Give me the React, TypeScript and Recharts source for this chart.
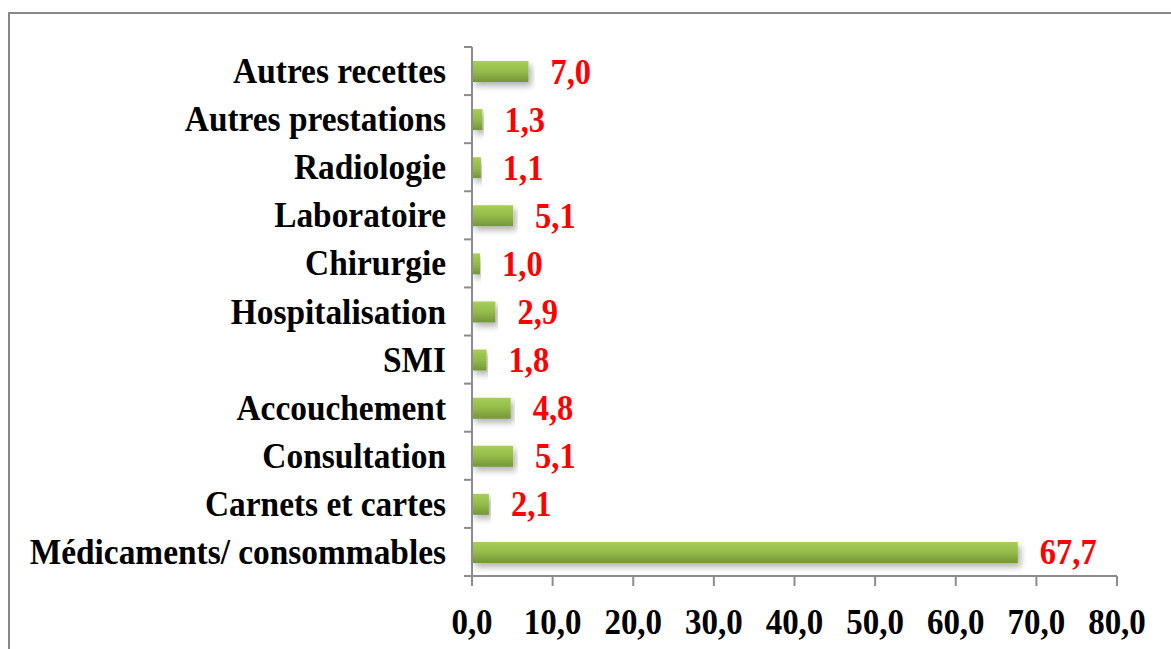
import { BarChart, Bar, XAxis, YAxis, LabelList } from "recharts";

const CATEGORIES = [
    "Autres recettes",
    "Autres prestations",
    "Radiologie",
    "Laboratoire",
    "Chirurgie",
    "Hospitalisation",
    "SMI",
    "Accouchement",
    "Consultation",
    "Carnets et cartes",
    "Médicaments/ consommables",
];
const VALUES = [7.0, 1.3, 1.1, 5.1, 1.0, 2.9, 1.8, 4.8, 5.1, 2.1, 67.7];
const X_TICKS = [0, 10, 20, 30, 40, 50, 60, 70, 80];

const W = 1171;
const H = 649;
const TOP = 47;
const BOTTOM = 73;
const LEFT = 472;
const RIGHT = 54;
const STEP = (H - TOP - BOTTOM) / CATEGORIES.length;
const AXIS = "#8c8c8c";
const FONT = "'Liberation Serif', 'Times New Roman', serif";
const STRETCH = 1.1;

const fmt = (v: number) => v.toFixed(1).replace(".", ",");

const YTick = (props: any) => {
    const { x, y, payload, index } = props;
    const last = index === CATEGORIES.length - 1;
    return (
        <g>
            <line x1={LEFT - 8} x2={LEFT} y1={y - STEP / 2} y2={y - STEP / 2} stroke={AXIS} strokeWidth={2} />
            {last && (
                <line x1={LEFT - 8} x2={LEFT} y1={y + STEP / 2} y2={y + STEP / 2} stroke={AXIS} strokeWidth={2} />
            )}
            <text
                transform={`translate(${x - 18},${y + 12}) scale(1,${STRETCH})`}
                textAnchor="end"
                fontFamily={FONT}
                fontWeight="bold"
                fontSize={33.4}
                fill="#000"
            >
                {payload.value}
            </text>
        </g>
    );
};

const XTick = (props: any) => {
    const { x, y, payload } = props;
    return (
        <text
            transform={`translate(${x},${y + 46}) scale(1,${STRETCH})`}
            textAnchor="middle"
            fontFamily={FONT}
            fontWeight="bold"
            fontSize={33}
            fill="#000"
        >
            {fmt(payload.value)}
        </text>
    );
};

const ValueLabel = (props: any) => {
    const { x, y, width, height, value } = props;
    return (
        <text
            transform={`translate(${x + width + 22},${y + height / 2 + 12}) scale(1,${STRETCH})`}
            textAnchor="start"
            fontFamily={FONT}
            fontWeight="bold"
            fontSize={32.5}
            fill="#ff0000"
        >
            {fmt(Number(value))}
        </text>
    );
};

export default function App() {
    const data = CATEGORIES.map((name, i) => ({ name, value: VALUES[i] }));

    return (
        <div style={{ position: "relative", width: W, height: H, overflow: "hidden", background: "#fff" }}>
            <style>{"body{margin:0;overflow:hidden;}"}</style>
            <div
                style={{
                    position: "absolute",
                    left: 8,
                    top: 12,
                    width: 1200,
                    height: 700,
                    border: "2px solid #888",
                    boxSizing: "border-box",
                }}
            />
            <div style={{ position: "absolute", left: 0, top: 0 }}>
                <BarChart
                    width={W}
                    height={H}
                    data={data}
                    layout="vertical"
                    margin={{ top: TOP, right: RIGHT, bottom: 0, left: 0 }}
                >
                    <defs>
                        <linearGradient id="barFill" x1="0" y1="0" x2="0" y2="1">
                            <stop offset="0%" stopColor="#a6ce58" />
                            <stop offset="50%" stopColor="#93bb48" />
                            <stop offset="100%" stopColor="#76943a" />
                        </linearGradient>
                        <filter id="barShadow" x="-5%" y="-50%" width="115%" height="220%">
                            <feDropShadow dx="3" dy="4" stdDeviation="3" floodColor="#000" floodOpacity="0.3" />
                        </filter>
                    </defs>
                    <XAxis
                        type="number"
                        domain={[0, 80]}
                        ticks={X_TICKS}
                        interval={0}
                        height={BOTTOM}
                        axisLine={{ stroke: AXIS, strokeWidth: 2 }}
                        tickLine={{ stroke: AXIS, strokeWidth: 2 }}
                        tickSize={10}
                        tick={<XTick />}
                    />
                    <YAxis
                        type="category"
                        dataKey="name"
                        width={LEFT}
                        interval={0}
                        axisLine={{ stroke: AXIS, strokeWidth: 2 }}
                        tickLine={false}
                        tick={<YTick />}
                    />
                    <Bar
                        dataKey="value"
                        barSize={21}
                        fill="url(#barFill)"
                        filter="url(#barShadow)"
                        isAnimationActive={false}
                    >
                        <LabelList dataKey="value" content={<ValueLabel />} />
                    </Bar>
                </BarChart>
            </div>
        </div>
    );
}
